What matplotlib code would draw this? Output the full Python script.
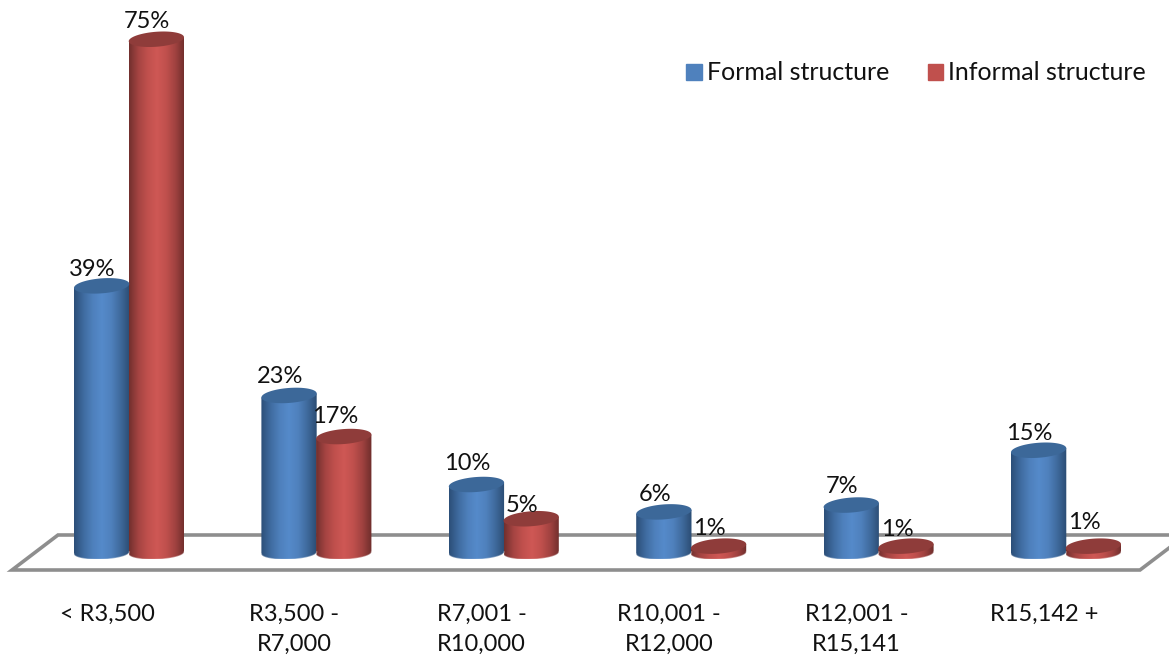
import numpy as np
import matplotlib.pyplot as plt
from matplotlib.colors import LinearSegmentedColormap
from matplotlib.patches import Patch, PathPatch
from matplotlib.path import Path

categories = ["< R3,500", "R3,500 -\nR7,000", "R7,001 -\nR10,000",
              "R10,001 -\nR12,000", "R12,001 -\nR15,141", "R15,142 +"]
formal = [39, 23, 10, 6, 7, 15]
informal = [75, 17, 5, 1, 1, 1]
series_names = ["Formal structure", "Informal structure"]

# small per-label shifts in pixels, positive moves the label down
formal_nudge = [3, 0, -2, 2, 0, 2]
informal_nudge = [1, -1, 6, 1, 2, -5]

W, H = 1169, 658
GROUP_PX = 187.4      # pixels per category
UNIT_PX = 6.85        # pixels per percentage point
X0_PX, Y0_PX = 129, 553   # where category 0 and 0% sit

BAR_W = 0.295
OFFSET = 0.146
TOP_B = 7.5 / UNIT_PX     # half height of the cylinder caps
SHEAR = 2 / UNIT_PX       # caps lean up to the right

blue = LinearSegmentedColormap.from_list(
    "blue", ["#2c4f78", "#3f6b9f", "#4e80bc", "#558aca", "#4f81bd", "#3f6a9c", "#2b4c73"])
red = LinearSegmentedColormap.from_list(
    "red", ["#72302e", "#a54442", "#c0504d", "#cf5855", "#c0504d", "#a04240", "#6e2d2b"])


def px_x(p):
    return (p - X0_PX) / GROUP_PX


def px_y(p):
    return (Y0_PX - p) / UNIT_PX


def cylinder(ax, cx, value, cmap, cap):
    half = BAR_W / 2
    t = np.linspace(0, 2 * np.pi, 80)
    tb = np.linspace(np.pi, 2 * np.pi, 40)
    # body outline: down the left side, along the front arc, up the right side
    bx = cx + half * np.cos(tb)
    by = 0.85 * TOP_B * np.sin(tb) + 0.5 * SHEAR * np.cos(tb)
    tt = np.linspace(0, np.pi, 40)
    ux = cx + half * np.cos(tt)
    uy = value + SHEAR * np.cos(tt)
    verts = np.vstack([np.column_stack([bx, by]), np.column_stack([ux, uy])])
    clip = PathPatch(Path(np.vstack([verts, verts[0]]), closed=True),
                     transform=ax.transData, fc="none", ec="none")
    ax.add_patch(clip)
    grad = np.linspace(0, 1, 128).reshape(1, -1)
    im = ax.imshow(grad, cmap=cmap, aspect="auto", zorder=3,
                   extent=[cx - half, cx + half, by.min(), value + SHEAR])
    im.set_clip_path(clip)
    # pale rim along the bottom
    ax.plot(bx, by, color="white", alpha=0.35, lw=1, zorder=4)
    # cap
    ax.fill(cx + half * np.cos(t), value + TOP_B * np.sin(t) + SHEAR * np.cos(t),
            color=cap, lw=0, zorder=5)


plt.rcParams["font.family"] = ["Lato", "DejaVu Sans"]
fig = plt.figure(figsize=(W / 100, H / 100), dpi=100)
ax = fig.add_axes([0, 0, 1, 1])

# floor of the 3D plot
floor_x = [px_x(1169), px_x(58), px_x(12), px_x(1140), px_x(1169)]
floor_y = [px_y(535), px_y(535), px_y(570), px_y(570), px_y(548)]
ax.plot(floor_x, floor_y, color="#8e8e8e", lw=2.6, zorder=1, solid_joinstyle="miter")

for i in range(len(categories)):
    cylinder(ax, i - OFFSET, formal[i], blue, "#3c6899")
    cylinder(ax, i + OFFSET, informal[i], red, "#8f3c3a")
    ax.text(i - OFFSET - 9 / GROUP_PX, formal[i] + (19 - formal_nudge[i]) / UNIT_PX,
            f"{formal[i]}%", ha="center", va="center", fontsize=17, color="#111111", zorder=6)
    ax.text(i + OFFSET - 9 / GROUP_PX, informal[i] + (19 - informal_nudge[i]) / UNIT_PX,
            f"{informal[i]}%", ha="center", va="center", fontsize=17, color="#111111", zorder=6)
    ax.text(i - 22 / GROUP_PX, px_y(604), categories[i], ha="center", va="top",
            fontsize=17, color="#111111", linespacing=1.5)

ax.set_xlim(px_x(0), px_x(W))
ax.set_ylim(px_y(H), px_y(0))
ax.axis("off")

handles = [Patch(color="#4f81bd"), Patch(color="#c0504d")]
ax.legend(handles, series_names, ncol=2, frameon=False, fontsize=18,
          loc="center right", bbox_to_anchor=(1146 / W, 1 - 73 / H),
          handlelength=0.62, handleheight=0.62, handletextpad=0.2,
          columnspacing=1.55, borderpad=0, borderaxespad=0, labelcolor="#111111")

fig.savefig("out.png", dpi=100)
